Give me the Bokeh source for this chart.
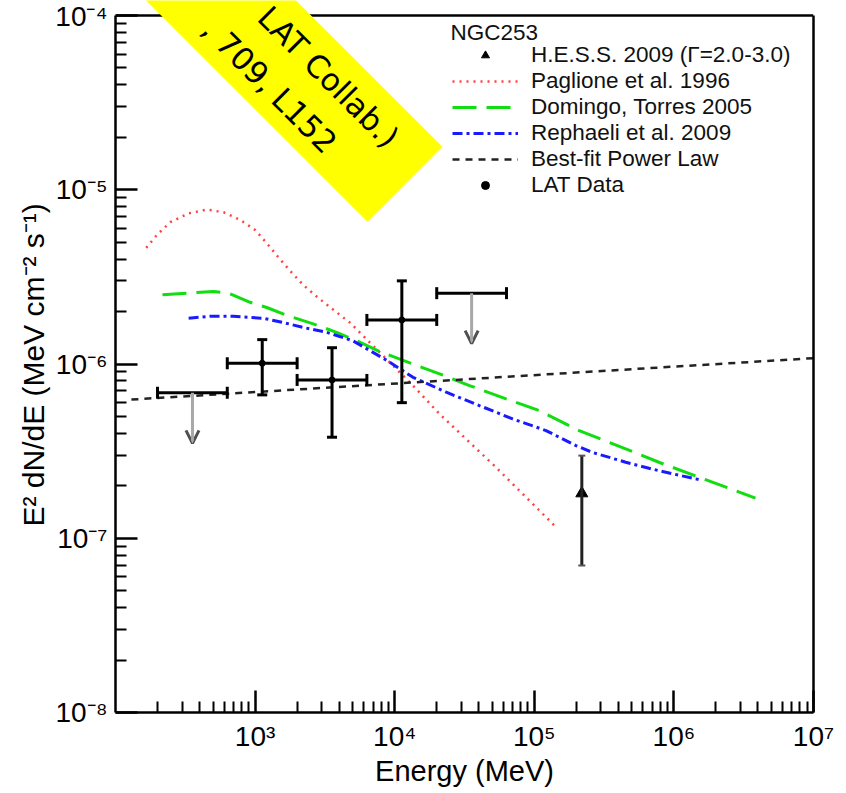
import math
from bokeh.plotting import figure
from bokeh.models import (Range1d, FixedTicker, CustomJSTickFormatter, ColumnDataSource,
                          Whisker, TeeHead, Arrow, OpenHead, Legend, LegendItem,
                          PolyAnnotation, Label, Span, LogAxis)
from bokeh.embed import file_html
from bokeh.resources import INLINE

# ---------------- data ----------------
# Fermi-LAT NGC 253 spectral points (E in MeV, E^2 dN/dE in MeV cm^-2 s^-1)
lat_e = [1125, 3557, 11250]
lat_e_lo = [632, 2000, 6320]
lat_e_hi = [2000, 6320, 20000]
lat_f = [1.01e-6, 8.1e-7, 1.79e-6]
lat_f_lo = [6.65e-7, 3.8e-7, 6.0e-7]
lat_f_hi = [1.38e-6, 1.24e-6, 3.0e-6]

# upper limits
ul_e = [356, 35570]
ul_e_lo = [200, 20000]
ul_e_hi = [632, 63200]
ul_f = [6.85e-7, 2.55e-6]
ul_tip = [3.5e-7, 1.31e-6]

# H.E.S.S. 2009
hess_e = [2.19e5]
hess_f = [1.81e-7]
hess_f_lo = [6.97e-8]
hess_f_hi = [2.98e-7]

# model curves
red_e = [166, 199, 247, 334, 452, 594, 782, 1000, 1213, 1467, 1778, 2213, 2760, 3434,
         4772, 6105, 13520, 20940, 32480, 53210, 87240, 142900]
red_f = [4.64e-6, 5.53e-6, 6.51e-6, 7.32e-6, 7.69e-6, 7.43e-6, 6.72e-6, 5.88e-6, 4.93e-6,
         4.10e-6, 3.43e-6, 2.84e-6, 2.44e-6, 2.12e-6, 1.73e-6, 1.42e-6, 7.52e-7, 5.17e-7,
         3.71e-7, 2.55e-7, 1.72e-7, 1.16e-7]

green_e = [217, 325, 504, 663, 921, 1212, 1684, 2607, 3834, 5324, 7814, 13520, 20940,
           34330, 62770, 108500, 209600, 451600, 781000, 1.51e6, 3.84e6]
green_f = [2.50e-6, 2.55e-6, 2.61e-6, 2.53e-6, 2.26e-6, 2.11e-6, 1.90e-6, 1.70e-6, 1.52e-6,
           1.36e-6, 1.18e-6, 1.00e-6, 8.78e-7, 7.52e-7, 6.31e-7, 5.40e-7, 4.15e-7, 3.26e-7,
           2.73e-7, 2.24e-7, 1.70e-7]

blue_e = [334, 477, 700, 1146, 1592, 2213, 3252, 5012, 8770, 13520, 23390, 40460, 69980,
          121300, 198700, 260800, 451600, 781000, 1.55e6]
blue_f = [1.83e-6, 1.88e-6, 1.88e-6, 1.83e-6, 1.73e-6, 1.62e-6, 1.52e-6, 1.36e-6, 1.05e-6,
          8.39e-7, 6.89e-7, 5.77e-7, 4.84e-7, 4.15e-7, 3.40e-7, 3.11e-7, 2.73e-7, 2.44e-7,
          2.16e-7]

pl_e = [130, 1e7]
pl_f = [6.25e-7, 1.08e-6]

legend_labels = ["H.E.S.S. 2009 (\u0393=2.0-3.0)", "Paglione et al. 1996",
                 "Domingo, Torres 2005", "Rephaeli et al. 2009",
                 "Best-fit Power Law", "LAT Data"]
legend_title = "NGC253"
x_label = "Energy (MeV)"
y_label = "E\u00b2 dN/dE (MeV cm\u207b\u00b2 s\u207b\u00b9)\u00a0\u00a0"
banner_lines = ["LAT Collab.)", ", 709, L152"]

# axis extents (decades)
x_min, x_max = 1e2, 1e7
y_min, y_max = 1e-8, 1e-4

# ---------------- figure ----------------
FONT = "Liberation Sans"
W, H = 846, 793
B_LEFT, B_RIGHT, B_BOTTOM, TOP_GAP = 115, 33, 81, 15
frame_h = H - B_BOTTOM
decade_px = (frame_h - TOP_GAP) / math.log10(y_max / y_min)
y_top = 10 ** (math.log10(y_max) + TOP_GAP / decade_px)

p = figure(width=W, height=H, x_axis_type="log", y_axis_type="log",
           x_range=Range1d(x_min, x_max), y_range=Range1d(y_min, y_top),
           output_backend="svg", toolbar_location=None,
           min_border_left=B_LEFT, min_border_right=B_RIGHT, min_border_top=0,
           min_border_bottom=B_BOTTOM)
p.xgrid.visible = False
p.ygrid.visible = False
p.outline_line_alpha = 0
p.background_fill_color = "white"
p.border_fill_color = "white"

fmt_code = """
const e = Math.round(Math.log10(tick));
const m = {"-":"\u207b","0":"\u2070","1":"\u00b9","2":"\u00b2","3":"\u00b3","4":"\u2074",
           "5":"\u2075","6":"\u2076","7":"\u2077","8":"\u2078","9":"\u2079"};
return "10" + String(e).split("").map(c => m[c]).join("");
"""
p.xaxis.ticker = FixedTicker(ticks=[10.0 ** k for k in range(3, 8)],
                             minor_ticks=[m * 10.0 ** k for k in range(2, 7) for m in range(2, 10)])
p.yaxis.ticker = FixedTicker(ticks=[10.0 ** k for k in range(-8, -3)],
                             minor_ticks=[m * 10.0 ** k for k in range(-8, -4) for m in range(2, 10)])
p.yaxis.bounds = (y_min, y_max)
for ax in (p.xaxis[0], p.yaxis[0]):
    ax.formatter = CustomJSTickFormatter(code=fmt_code)
    ax.axis_line_width = 2.5
    ax.axis_line_color = "black"
    ax.major_tick_line_width = 2.5
    ax.minor_tick_line_width = 2
    ax.major_tick_in = 22
    ax.major_tick_out = 0
    ax.minor_tick_in = 11
    ax.minor_tick_out = 0
    ax.major_label_text_font = FONT
    ax.major_label_text_font_size = "28px"
    ax.major_label_text_color = "black"
    ax.major_label_standoff = 8
    ax.axis_label_text_font = FONT
    ax.axis_label_text_font_style = "normal"
    ax.axis_label_text_color = "black"
p.xaxis.axis_label = x_label
p.yaxis.axis_label = y_label
p.xaxis.axis_label_text_font_size = "29px"
p.yaxis.axis_label_text_font_size = "30px"
p.xaxis.axis_label_standoff = 0
p.yaxis.axis_label_standoff = 2

# right frame line (plain axis, no ticks) and top frame line
right_ax = LogAxis(ticker=FixedTicker(ticks=[]), bounds=(y_min, y_max),
                   axis_line_width=2.5, axis_line_color="black",
                   major_tick_in=0, major_tick_out=0, minor_tick_in=0, minor_tick_out=0,
                   major_label_text_alpha=0)
p.add_layout(right_ax, "right")
p.add_layout(Span(location=y_max, dimension="width", line_color="black", line_width=2.5))

# ---------------- curves ----------------
r_red = p.line(red_e, red_f, line_color="#ff2020", line_width=2.5, line_dash="2 5", line_alpha=0.85)
r_green = p.line(green_e, green_f, line_color="#11dd11", line_width=3, line_dash="24 10")
r_blue = p.line(blue_e, blue_f, line_color="#1a1aff", line_width=3, line_dash="10 4 3 4")
r_pl = p.line(pl_e, pl_f, line_color="#222222", line_width=2.5, line_dash="7 6")

# ---------------- LAT data ----------------
src_pts = ColumnDataSource(dict(x=lat_e, y=lat_f, lo=lat_f_lo, hi=lat_f_hi,
                                xlo=lat_e_lo, xhi=lat_e_hi))
p.add_layout(Whisker(source=src_pts, base="x", lower="lo", upper="hi", dimension="height",
                     line_color="black", line_width=3, level="glyph",
                     upper_head=TeeHead(size=10, line_width=3, line_color="black"),
                     lower_head=TeeHead(size=10, line_width=3, line_color="black")))
p.add_layout(Whisker(source=src_pts, base="y", lower="xlo", upper="xhi", dimension="width",
                     line_color="black", line_width=3, level="glyph",
                     upper_head=TeeHead(size=12, line_width=3, line_color="black"),
                     lower_head=TeeHead(size=12, line_width=3, line_color="black")))
r_lat = p.scatter("x", "y", source=src_pts, marker="circle", size=6, color="black")

src_ul = ColumnDataSource(dict(x=ul_e, y=ul_f, tip=ul_tip, xlo=ul_e_lo, xhi=ul_e_hi))
p.add_layout(Whisker(source=src_ul, base="y", lower="xlo", upper="xhi", dimension="width",
                     line_color="black", line_width=3, level="glyph",
                     upper_head=TeeHead(size=12, line_width=3, line_color="black"),
                     lower_head=TeeHead(size=12, line_width=3, line_color="black")))
p.add_layout(Arrow(source=src_ul, x_start="x", y_start="y", x_end="x", y_end="tip",
                   line_color="#a8a8a8", line_width=3,
                   end=OpenHead(size=13, line_color="#505050", line_width=3)))

# ---------------- H.E.S.S. ----------------
src_h = ColumnDataSource(dict(x=hess_e, y=hess_f, lo=hess_f_lo, hi=hess_f_hi))
p.add_layout(Whisker(source=src_h, base="x", lower="lo", upper="hi", dimension="height",
                     line_color="#222222", line_width=3, level="glyph",
                     upper_head=TeeHead(size=7, line_width=2, line_color="#555555"),
                     lower_head=TeeHead(size=7, line_width=2, line_color="#555555")))
r_hess = p.scatter("x", "y", source=src_h, marker="triangle", size=12, color="black")

# ---------------- legend ----------------
LEG_FS = "22.5px"
legend = Legend(items=[LegendItem(label=legend_labels[0], renderers=[r_hess]),
                       LegendItem(label=legend_labels[1], renderers=[r_red]),
                       LegendItem(label=legend_labels[2], renderers=[r_green]),
                       LegendItem(label=legend_labels[3], renderers=[r_blue]),
                       LegendItem(label=legend_labels[4], renderers=[r_pl]),
                       LegendItem(label=legend_labels[5], renderers=[r_lat])],
                location=(329, 506))
legend.border_line_alpha = 0
legend.background_fill_alpha = 0
legend.label_text_font = FONT
legend.label_text_font_size = LEG_FS
legend.label_text_color = "#111111"
legend.glyph_width = 66
legend.glyph_height = 20
legend.label_height = 20
legend.label_standoff = 13
legend.spacing = 0
legend.padding = 8
legend.margin = 0
p.add_layout(legend)
p.add_layout(Label(x=450, y=32, x_units="canvas", y_units="canvas", text=legend_title,
                   text_align="left", text_baseline="middle", text_font=FONT,
                   text_font_size=LEG_FS, text_color="#111111"))

# ---------------- yellow banner ----------------
s2 = math.sqrt(2.0)
def canvas_pt(along, across):
    return (along + across) / s2, (along - across) / s2

band = [(-300, 103), (416, 103), (416, 209), (-300, 209)]
pts = [canvas_pt(a, c) for a, c in band]
p.add_layout(PolyAnnotation(xs=[q[0] for q in pts], ys=[q[1] for q in pts],
                            xs_units="canvas", ys_units="canvas",
                            fill_color="#ffff00", fill_alpha=1.0, line_alpha=0,
                            level="overlay"))
for txt, (a, c) in zip(banner_lines, [(378, 178), (338, 130)]):
    bx, by = canvas_pt(a, c)
    p.add_layout(Label(x=bx, y=by, x_units="canvas", y_units="canvas", text=txt,
                       angle=-math.pi / 4, text_align="right", text_baseline="middle",
                       text_font="DejaVu Sans", text_font_size="31px", text_color="black",
                       level="overlay"))

open("out.html", "w").write(file_html(p, INLINE))
